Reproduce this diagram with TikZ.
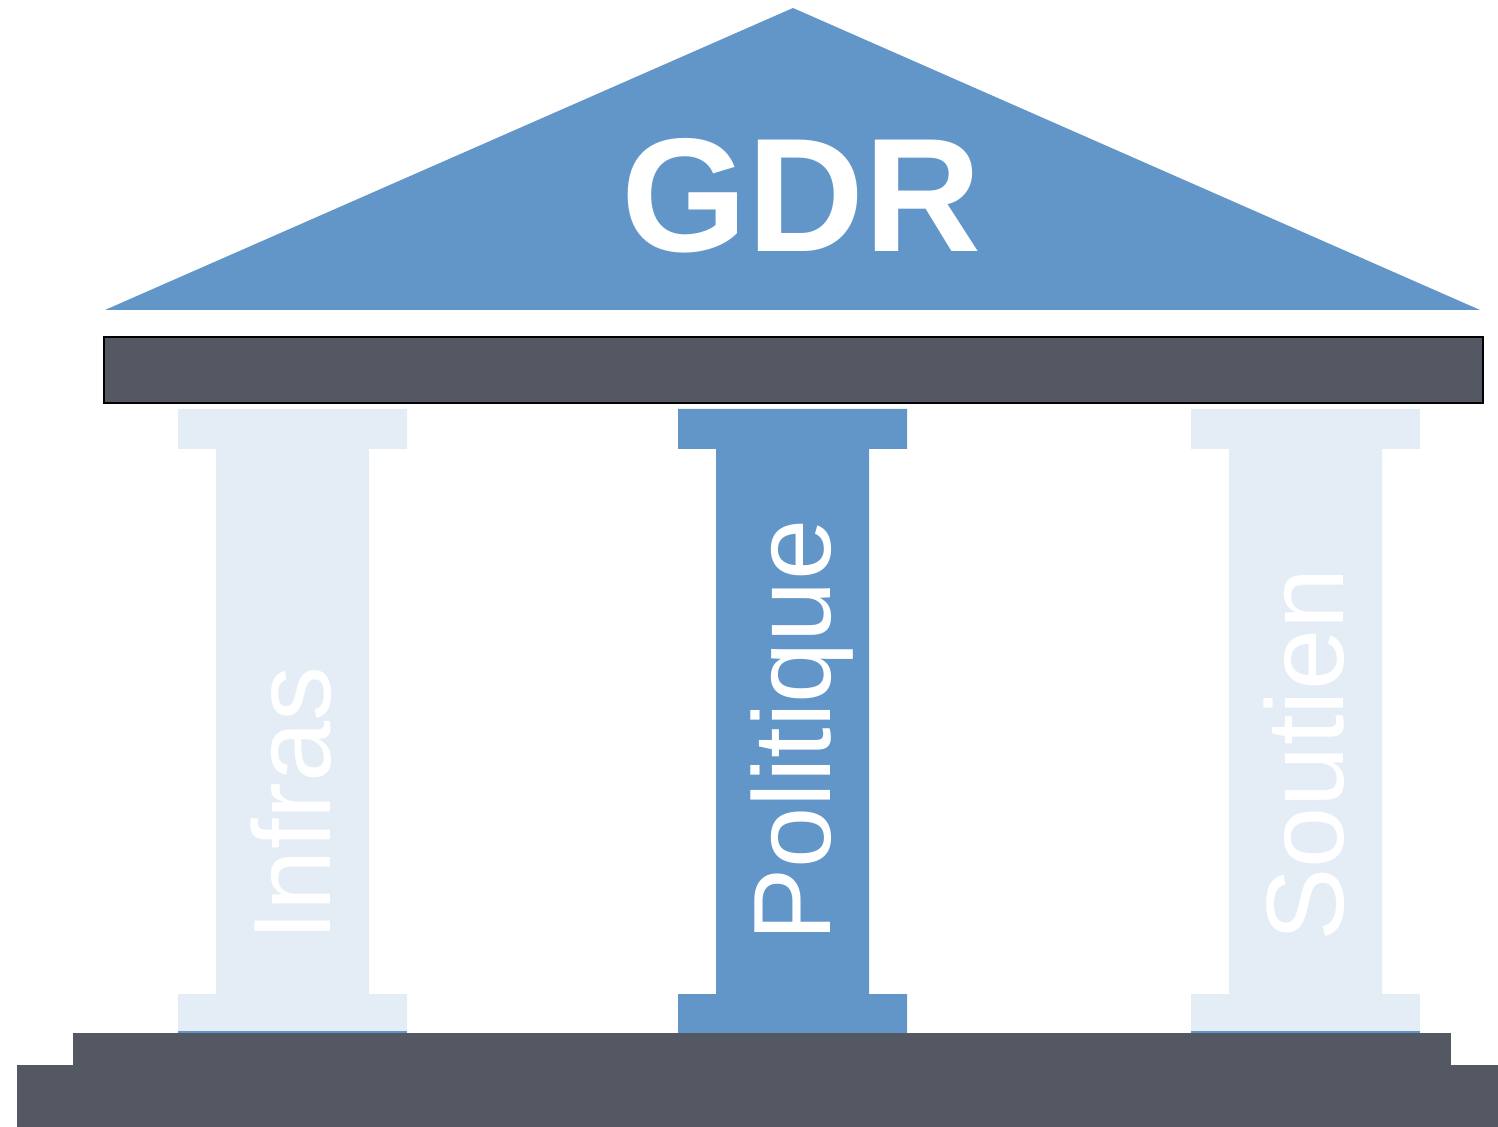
\documentclass[tikz,border=0pt]{standalone}
\usepackage{fontspec}
\setmainfont{Liberation Sans}
\usetikzlibrary{positioning}
\definecolor{pBlue}{RGB}{98,150,201}
\definecolor{pLight}{RGB}{228,237,246}
\definecolor{pDark}{RGB}{83,88,98}
\tikzset{
    roof/.style={fill=pBlue},
    slab/.style={fill=pDark, draw=black, line width=0.8pt},
    plinth/.style={fill=pDark},
    title/.style={anchor=base, inner sep=0pt, text=white, font=\bfseries\fontsize{81}{81}\selectfont},
    lbl/.style={rotate=90, anchor=base west, inner sep=0pt, text=white, font=\fontsize{55}{55}\selectfont}
}

\begin{document}
\begin{tikzpicture}[x=0.5pt,y=-0.5pt]
\useasboundingbox (0,0) rectangle (1498,1127);
% roof and architrave
\fill[roof] (105,310) -- (793,8) -- (1480,310) -- cycle;
\node[title] (gdr) at (801,252) {GDR};
\draw[slab] (104,337) rectangle (1483,403);
% columns
\foreach \cx/\col/\txt [count=\i] in {292.5/pLight/Infras, 792.5/pBlue/Politique, 1305.5/pLight/Soutien}{
  \fill[\col] (\cx-114.5,409) -- (\cx+114.5,409) -- (\cx+114.5,449) -- (\cx+76.5,449)
      -- (\cx+76.5,994) -- (\cx+114.5,994) -- (\cx+114.5,1032) -- (\cx-114.5,1032)
      -- (\cx-114.5,994) -- (\cx-76.5,994) -- (\cx-76.5,449) -- (\cx-114.5,449) -- cycle;
  \draw[pBlue, line width=1pt] (\cx-114.5,1032) -- (\cx+114.5,1032);
  \node[lbl] (col\i) at (\cx+38,942) {\txt};
}
% steps
\fill[plinth] (73,1033) rectangle (1451,1066);
\fill[plinth] (17,1065) rectangle (1498,1127);
\end{tikzpicture}
\end{document}
